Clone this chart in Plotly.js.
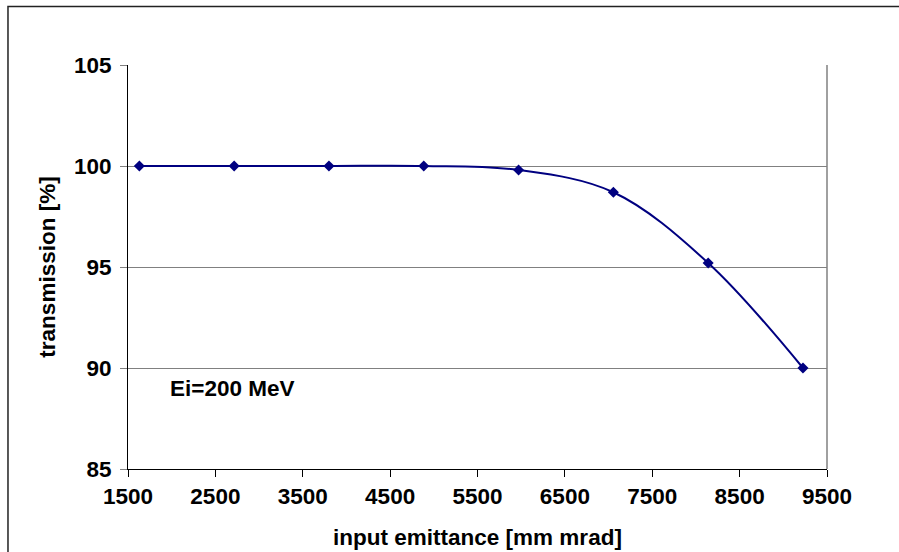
<!DOCTYPE html>
<html>
<head>
<meta charset="utf-8">
<script src="https://cdn.plot.ly/plotly-3.0.1.min.js"></script>
<style>html,body{margin:0;padding:0;background:#fff;}#chart{width:899px;height:552px;}</style>
</head>
<body>
<div id="chart"></div>
<script>
const emittance = [1630, 2715, 3800, 4885, 5970, 7055, 8140, 9225];
const transmission = [100, 100, 100, 100, 99.8, 98.7, 95.2, 90];
const xTickVals = [1500, 2500, 3500, 4500, 5500, 6500, 7500, 8500, 9500];
const yTickVals = [85, 90, 95, 100, 105];
const labelText = 'Ei=200 MeV';

const font = 'Liberation Sans, Arial, sans-serif';
const fs = 22.5;
const trace = {
  x: emittance, y: transmission, type: 'scatter', mode: 'lines+markers',
  line: {color: '#000080', width: 2, shape: 'spline', smoothing: 1},
  marker: {symbol: 'diamond', size: 8.5, color: '#000080'},
  cliponaxis: false, hoverinfo: 'skip'
};
const layout = {
  width: 899, height: 552,
  margin: {l: 128, r: 72, t: 65, b: 83},
  paper_bgcolor: '#ffffff', plot_bgcolor: '#ffffff',
  showlegend: false,
  font: {family: font, color: '#000', size: fs},
  xaxis: {
    range: [1500, 9500], tickvals: xTickVals, ticktext: xTickVals.map(String),
    showgrid: false, zeroline: false,
    showline: true, linecolor: '#000', linewidth: 1,
    ticks: 'outside', ticklen: 7, tickcolor: '#000',
    tickfont: {family: font, size: fs, color: '#000', weight: 'bold'},
    title: {text: 'input emittance [mm mrad]', font: {family: font, size: fs, color: '#000', weight: 'bold'}, standoff: 21}
  },
  yaxis: {
    range: [85, 105], tickvals: yTickVals, ticktext: yTickVals.map(String),
    showgrid: true, gridcolor: '#808080', gridwidth: 1, zeroline: false,
    showline: true, linecolor: '#000', linewidth: 1,
    ticks: 'outside', ticklen: 7, tickcolor: '#808080', ticklabelstandoff: 4,
    tickfont: {family: font, size: fs, color: '#000', weight: 'bold'},
    title: {text: 'transmission [%]', font: {family: font, size: fs, color: '#000', weight: 'bold'}, standoff: 12}
  },
  shapes: [
    {type: 'line', xref: 'paper', yref: 'paper', x0: 1, x1: 1, y0: 0, y1: 1, line: {color: '#808080', width: 1.5}},
    {type: 'rect', xref: 'paper', yref: 'paper', x0: -0.1717, x1: 1.3, y0: -0.4, y1: 1.1448, line: {color: '#222', width: 1.5}, layer: 'below'}
  ],
  annotations: [
    {x: 2690, y: 89.0, xref: 'x', yref: 'y', text: labelText, showarrow: false, xanchor: 'center', yanchor: 'middle',
     font: {family: font, size: fs, color: '#000', weight: 'bold'}}
  ]
};
Plotly.newPlot('chart', [trace], layout, {staticPlot: true, displayModeBar: false});
</script>
</body>
</html>
